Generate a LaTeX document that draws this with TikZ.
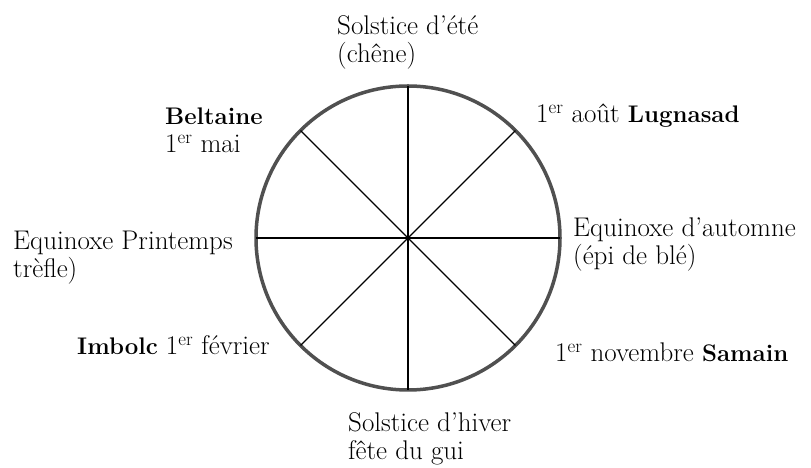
\documentclass[tikz,border=0pt]{standalone}
\usepackage{fontspec}
\usepackage{xcolor}
\usepackage{tikz}
\usetikzlibrary{positioning}

\definecolor{ringgray}{HTML}{505050}
\newcommand{\feastname}[1]{{\fontsize{24}{28}\selectfont\bfseries #1}}

\begin{document}
\begin{tikzpicture}[
  x=1pt, y=1pt,
  every node/.style = {font=\fontsize{27}{28}\selectfont, inner sep=0pt},
  wheel/.style = {
    circle, draw=ringgray, line width=3.5pt,
    minimum size=304pt, outer sep=0pt
  },
  feast/.style = {anchor=base west, align=left},
  spoke/.style = {line width=1.3pt, black}
]
\useasboundingbox (0,0) rectangle (811,468);

% Wheel
\node[wheel] (ring) at (408,230) {};

% Labels (base = last line)
\node[feast] (summer) at (337,405) {Solstice d'été\\(chêne)};
\node[feast] (lugnasad) at (536,345) {1\textsuperscript{er} août \feastname{Lugnasad}};
\node[feast] (autumn) at (573,203) {Equinoxe d'automne\\(épi de blé)};
\node[feast] (samain) at (555,106) {1\textsuperscript{er} novembre \feastname{Samain}};
\node[feast] (winter) at (348,8) {Solstice d'hiver\\fête du gui};
\node[feast] (imbolc) at (77,113) {\feastname{Imbolc} 1\textsuperscript{er} février};
\node[feast] (spring) at (13,190) {Equinoxe Printemps\\trèfle)};
\node[feast] (beltaine) at (165,315) {\feastname{Beltaine}\\1\textsuperscript{er} mai};

% Spokes
\foreach \a in {0,45,...,315}
  \draw[spoke] (ring.center) -- (ring.\a);

\end{tikzpicture}
\end{document}
